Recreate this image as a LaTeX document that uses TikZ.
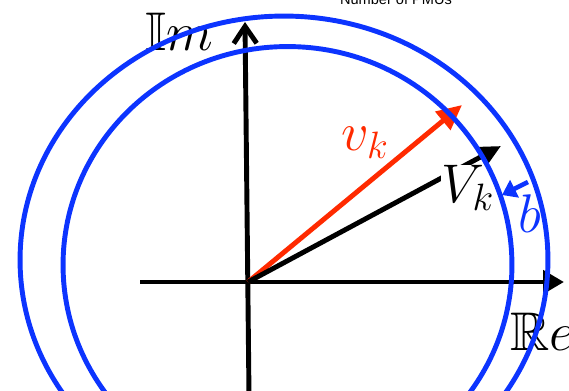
\RequirePackage{fix-cm}
\documentclass[tikz,border=0pt]{standalone}
\usepackage{amssymb}
\usepackage{fontspec}
\newfontfamily\plotfont{Liberation Sans}
\usetikzlibrary{arrows.meta}
\definecolor{ringblue}{RGB}{12,52,255}
\definecolor{phasorred}{RGB}{255,42,0}
\begin{document}
\begin{tikzpicture}[x=0.02cm,y=-0.02cm,line width=2.8pt,
	lbl/.style={inner sep=0pt,anchor=base west,font=\fontsize{31}{36}\selectfont},
	ring/.style={draw=ringblue,line width=2.8pt}]
	\useasboundingbox (0,0) rectangle (569,390);
	\coordinate (O) at (248,282);
	\coordinate (ReL) at (140,282);
	\coordinate (ReR) at (564,282);
	\coordinate (ImB) at (249,395);
	\coordinate (ImT) at (245,22);
	\coordinate (vtip) at (462,105);
	\coordinate (Vtip) at (501,146);
	\coordinate (btail) at (528,182);
	\coordinate (bhead) at (502,195);
	\node[anchor=base,inner sep=0pt,font=\plotfont\fontsize{8.3}{10}\selectfont] (title) at (396,4) {Number of PMUs};
	\draw[-{Triangle[length=0.42cm,width=0.46cm]}] (ReL) -- (ReR);
	\draw[-{Straight Barb[length=0.34cm,width=0.46cm]}] (ImB) -- (ImT);
	\draw[phasorred,-{Triangle[length=0.5cm,width=0.46cm]}] (O) -- (vtip);
	\draw[-{Triangle[length=0.46cm,width=0.42cm]}] (O) -- (Vtip);
	\draw[ringblue,line width=2.6pt,-{Triangle[length=0.28cm,width=0.38cm]}] (btail) -- (bhead);
	\node[lbl] (Im) at (143,50) {$\mathbb{I}m$};
	\node[lbl,text=phasorred] (vk) at (339,150) {$v_k$};
	\node[lbl,fill=white] (Vk) at (439,202) {$V_k$};
	\node[lbl,text=ringblue] (b) at (516,232) {$b$};
	\node[lbl] (Re) at (508,350) {$\mathbb{R}e$};
	% the two rings
	\draw[ring] (284,260) ellipse [x radius=5.28cm, y radius=4.88cm];
	\draw[ring] (287.5,265) ellipse [x radius=4.49cm, y radius=4.37cm];
\end{tikzpicture}
\end{document}
